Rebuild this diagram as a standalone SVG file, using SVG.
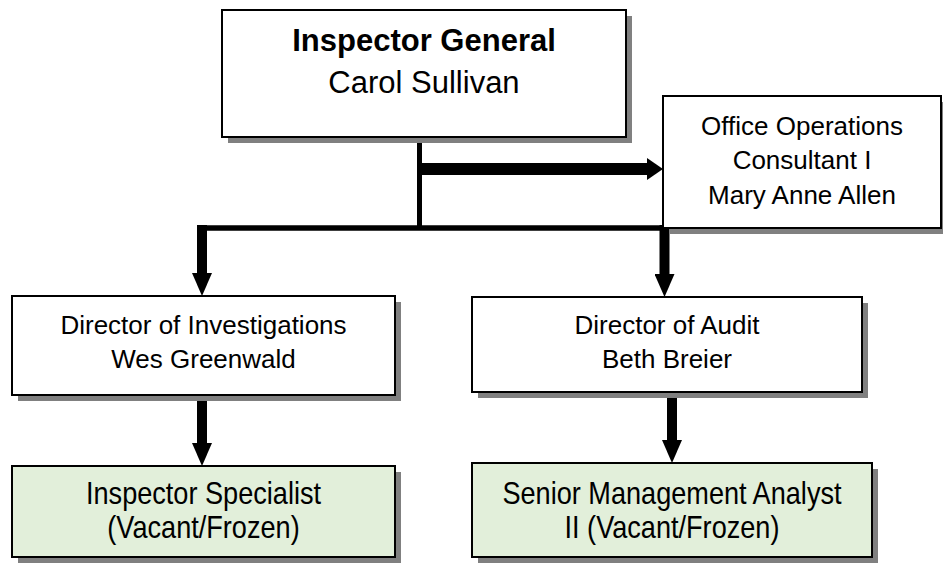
<svg xmlns="http://www.w3.org/2000/svg" width="943" height="563" viewBox="0 0 943 563">
<style>
.box{stroke:#000;stroke-width:2;fill:#fff}
.green{fill:#e2efda}
.sh{fill:#808080}
text{font-family:"Liberation Sans",Arial,sans-serif;fill:#000;text-anchor:middle}
.t26{font-size:26px}
.t31{font-size:31px}
.big{font-size:31px}
.con{stroke:#000;fill:none}
</style>
<defs>
<marker id="ah" markerUnits="userSpaceOnUse" markerWidth="24" markerHeight="20" refX="0" refY="10" orient="auto" viewBox="0 0 24 20">
<path d="M0,0 L23,10 L0,20 Z" fill="#000"/>
</marker>
<marker id="ahh" markerUnits="userSpaceOnUse" markerWidth="16" markerHeight="22" refX="0" refY="11" orient="auto" viewBox="0 0 16 22">
<path d="M0,0 L16,11 L0,22 Z" fill="#000"/>
</marker>
</defs>
<rect width="943" height="563" fill="#fff"/>
<g id="connectors">
<line class="con" x1="419.5" y1="137" x2="419.5" y2="228" stroke-width="5"/>
<line class="con" x1="419" y1="169" x2="647" y2="169" stroke-width="12" marker-end="url(#ahh)"/>
<line class="con" x1="197" y1="228" x2="669" y2="228" stroke-width="5.5"/>
<line class="con" x1="202" y1="225" x2="202" y2="273" stroke-width="10" marker-end="url(#ah)"/>
<line class="con" x1="664.5" y1="225" x2="664.5" y2="274" stroke-width="10" marker-end="url(#ah)"/>
<line class="con" x1="202" y1="396" x2="202" y2="443" stroke-width="10" marker-end="url(#ah)"/>
<line class="con" x1="672" y1="393" x2="672" y2="440" stroke-width="10" marker-end="url(#ah)"/>
</g>
<g id="inspector-general">
<rect class="sh" x="228" y="16" width="404" height="127"/>
<rect class="box" x="222" y="10" width="404" height="127"/>
<text class="big" x="424" y="51" font-weight="bold">Inspector General</text>
<text class="big" x="424" y="93">Carol Sullivan</text>
</g>
<g id="office-operations">
<rect class="sh" x="669" y="102" width="278" height="132"/>
<rect class="box" x="663" y="96" width="278" height="132"/>
<text class="t26" x="802" y="135">Office Operations</text>
<text class="t26" x="802" y="169">Consultant I</text>
<text class="t26" x="802" y="204">Mary Anne Allen</text>
</g>
<g id="director-investigations">
<rect class="sh" x="18" y="302" width="383" height="99"/>
<rect class="box" x="12" y="296" width="383" height="99"/>
<text class="t26" x="203.5" y="334">Director of Investigations</text>
<text class="t26" x="203.5" y="368">Wes Greenwald</text>
</g>
<g id="director-audit">
<rect class="sh" x="478" y="303" width="390" height="95"/>
<rect class="box" x="472" y="297" width="390" height="95"/>
<text class="t26" x="667" y="334">Director of Audit</text>
<text class="t26" x="667" y="368">Beth Breier</text>
</g>
<g id="inspector-specialist">
<rect class="sh" x="18" y="472" width="383" height="91"/>
<rect class="box green" x="12" y="466" width="383" height="91"/>
<text class="t31" transform="translate(203.5,504) scale(0.875,1)">Inspector Specialist</text>
<text class="t31" transform="translate(203.5,538) scale(0.875,1)">(Vacant/Frozen)</text>
</g>
<g id="senior-analyst">
<rect class="sh" x="478" y="469" width="400" height="94"/>
<rect class="box green" x="472" y="463" width="400" height="94"/>
<text class="t31" transform="translate(672,504) scale(0.875,1)">Senior Management Analyst</text>
<text class="t31" transform="translate(672,538) scale(0.875,1)">II (Vacant/Frozen)</text>
</g>
</svg>
